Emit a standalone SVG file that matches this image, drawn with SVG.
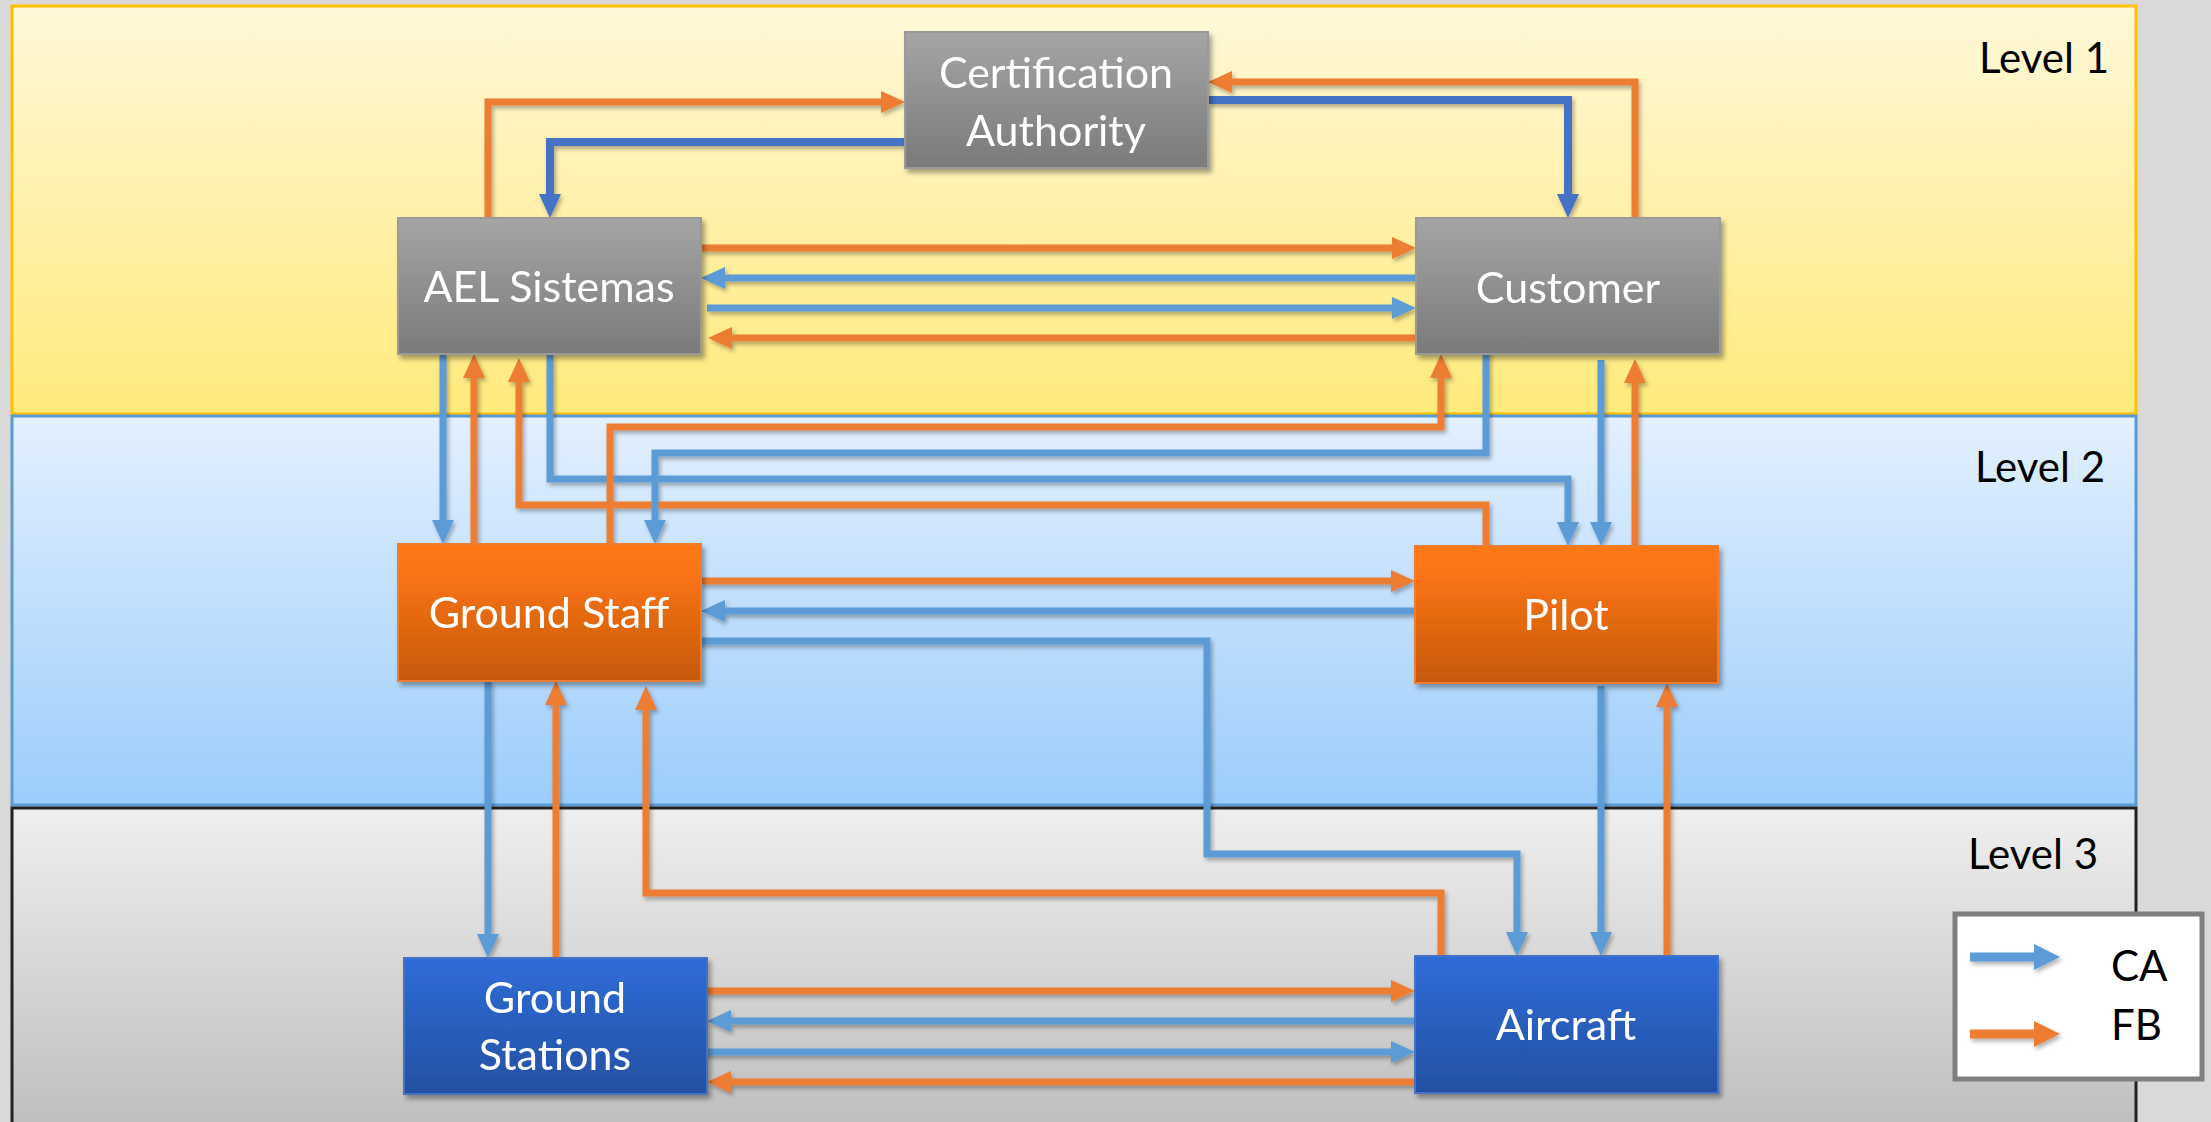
<svg xmlns="http://www.w3.org/2000/svg" width="2211" height="1122" viewBox="0 0 2211 1122">
<style>
.lvl{font-family:Lato,"Liberation Sans",sans-serif;font-size:42px;fill:#000}
.nt{font-family:Lato,"Liberation Sans",sans-serif;font-size:43px;fill:#fff;text-anchor:middle}
.o{fill:none;stroke:#ED7D31;stroke-width:7;marker-end:url(#ao)}
.b{fill:none;stroke:#5B9BD5;stroke-width:7;marker-end:url(#ab)}
.d{fill:none;stroke:#4472C4;stroke-width:8;marker-end:url(#ad)}
.lo{fill:none;stroke:#ED7D31;stroke-width:9;marker-end:url(#lao)}
.lb{fill:none;stroke:#5B9BD5;stroke-width:9;marker-end:url(#lab)}
</style>
<defs>
<linearGradient id="gy" x1="0" y1="0" x2="0" y2="1"><stop offset="0" stop-color="#fff8d9"/><stop offset="1" stop-color="#ffea7c"/></linearGradient>
<linearGradient id="gb" x1="0" y1="0" x2="0" y2="1"><stop offset="0" stop-color="#e3f0ff"/><stop offset="1" stop-color="#9ccdfb"/></linearGradient>
<linearGradient id="gg" x1="0" y1="0" x2="0" y2="1"><stop offset="0" stop-color="#efefef"/><stop offset="1" stop-color="#bdbdbd"/></linearGradient>
<linearGradient id="ngray" x1="0" y1="0" x2="0" y2="1"><stop offset="0" stop-color="#a5a5a5"/><stop offset="1" stop-color="#7a7a7a"/></linearGradient>
<linearGradient id="norange" x1="0" y1="0" x2="0" y2="1"><stop offset="0" stop-color="#ff7815"/><stop offset="0.2" stop-color="#fb7413"/><stop offset="1" stop-color="#c5590e"/></linearGradient>
<linearGradient id="nblue" x1="0" y1="0" x2="0" y2="1"><stop offset="0" stop-color="#2f6cd8"/><stop offset="1" stop-color="#2350a2"/></linearGradient>
<filter id="sh" x="-10%" y="-10%" width="130%" height="130%"><feDropShadow dx="3" dy="4" stdDeviation="2.5" flood-color="#000" flood-opacity="0.35"/></filter>
<filter id="lsh" filterUnits="userSpaceOnUse" x="0" y="0" width="2211" height="1122"><feDropShadow dx="2" dy="3" stdDeviation="2" flood-color="#000" flood-opacity="0.3"/></filter>
<marker id="ao" markerUnits="userSpaceOnUse" markerWidth="24" markerHeight="22" refX="6" refY="11" orient="auto"><path d="M0,0 L24,11 L0,22 z" fill="#ED7D31"/></marker>
<marker id="ab" markerUnits="userSpaceOnUse" markerWidth="24" markerHeight="22" refX="6" refY="11" orient="auto"><path d="M0,0 L24,11 L0,22 z" fill="#5B9BD5"/></marker>
<marker id="ad" markerUnits="userSpaceOnUse" markerWidth="24" markerHeight="22" refX="6" refY="11" orient="auto"><path d="M0,0 L24,11 L0,22 z" fill="#4472C4"/></marker>
<marker id="lao" markerUnits="userSpaceOnUse" markerWidth="26" markerHeight="26" refX="6" refY="13" orient="auto"><path d="M0,0 L26,13 L0,26 z" fill="#ED7D31"/></marker>
<marker id="lab" markerUnits="userSpaceOnUse" markerWidth="26" markerHeight="26" refX="6" refY="13" orient="auto"><path d="M0,0 L26,13 L0,26 z" fill="#5B9BD5"/></marker>
</defs>
<rect x="0" y="0" width="2211" height="1122" fill="#d9d9d9"/>
<g id="level1"><rect x="12" y="6" width="2124" height="408" fill="url(#gy)" stroke="#ffc000" stroke-width="3"/><text class="lvl" x="1979" y="73">Level 1</text></g>
<g id="level2"><rect x="12" y="416" width="2124" height="389" fill="url(#gb)" stroke="#5b9bd5" stroke-width="3"/><text class="lvl" x="1975" y="482">Level 2</text></g>
<g id="level3"><rect x="12" y="808" width="2124" height="330" fill="url(#gg)" stroke="#222" stroke-width="3"/><text class="lvl" x="1968" y="869">Level 3</text></g>

<g id="connectors" filter="url(#lsh)">
<path class="o" d="M488,218 V102 H887"/>
<path class="d" d="M905,142 H550 V200"/>
<path class="d" d="M1208,100 H1568 V200"/>
<path class="o" d="M1635,218 V82 H1226"/>
<path class="o" d="M701,248 H1398"/>
<path class="b" d="M1416,278 H719"/>
<path class="b" d="M707,308 H1398"/>
<path class="o" d="M1416,338 H726"/>
<path class="b" d="M443,354 V526"/>
<path class="o" d="M474,544 V372"/>
<path class="o" d="M1486,546 V505 H519 V376"/>
<path class="b" d="M550,354 V479 H1568 V528"/>
<path class="o" d="M610,544 V427 H1441 V372"/>
<path class="b" d="M1486,350 V453 H655 V526"/>
<path class="b" d="M1601,360 V528"/>
<path class="o" d="M1635,546 V377"/>
<path class="o" d="M701,581 H1397"/>
<path class="b" d="M1415,611 H719"/>
<path class="b" d="M698,641 H1207 V854 H1517 V938"/>
<path class="b" d="M488,681 V940"/>
<path class="o" d="M556,958 V699"/>
<path class="o" d="M1441,956 V893 H646 V704"/>
<path class="b" d="M1601,686 V938"/>
<path class="o" d="M1667,956 V701"/>
<path class="o" d="M707,991 H1397"/>
<path class="b" d="M1415,1021 H725"/>
<path class="b" d="M700,1052 H1397"/>
<path class="o" d="M1415,1082 H725"/>
</g>

<g id="cert-authority" filter="url(#sh)"><rect x="905" y="32" width="303" height="136" fill="url(#ngray)" stroke="#9a9a9a" stroke-width="2"/><text class="nt" x="1056" y="88">Certification</text><text class="nt" x="1056" y="146">Authority</text></g>
<g id="ael-sistemas" filter="url(#sh)"><rect x="398" y="218" width="303" height="136" fill="url(#ngray)" stroke="#9a9a9a" stroke-width="2"/><text class="nt" x="549" y="302">AEL Sistemas</text></g>
<g id="customer" filter="url(#sh)"><rect x="1416" y="218" width="304" height="136" fill="url(#ngray)" stroke="#9a9a9a" stroke-width="2"/><text class="nt" x="1568" y="303">Customer</text></g>
<g id="ground-staff" filter="url(#sh)"><rect x="398" y="544" width="303" height="137" fill="url(#norange)" stroke="#ed7d31" stroke-width="2"/><text class="nt" x="549" y="628">Ground Staff</text></g>
<g id="pilot" filter="url(#sh)"><rect x="1415" y="546" width="303" height="137" fill="url(#norange)" stroke="#ed7d31" stroke-width="2"/><text class="nt" x="1566" y="630">Pilot</text></g>
<g id="ground-stations" filter="url(#sh)"><rect x="404" y="958" width="303" height="136" fill="url(#nblue)" stroke="#4472c4" stroke-width="2"/><text class="nt" x="555" y="1013">Ground</text><text class="nt" x="555" y="1070">Stations</text></g>
<g id="aircraft" filter="url(#sh)"><rect x="1415" y="956" width="303" height="137" fill="url(#nblue)" stroke="#4472c4" stroke-width="2"/><text class="nt" x="1566" y="1040">Aircraft</text></g>

<g id="legend"><rect x="1955" y="914" width="247" height="165" fill="#fff" stroke="#7f7f7f" stroke-width="5"/>
<g filter="url(#lsh)"><path class="lb" d="M1970,957 H2040"/><path class="lo" d="M1970,1034 H2040"/></g>
<text class="lvl" x="2111" y="981">CA</text><text class="lvl" x="2111" y="1040">FB</text></g>
</svg>
